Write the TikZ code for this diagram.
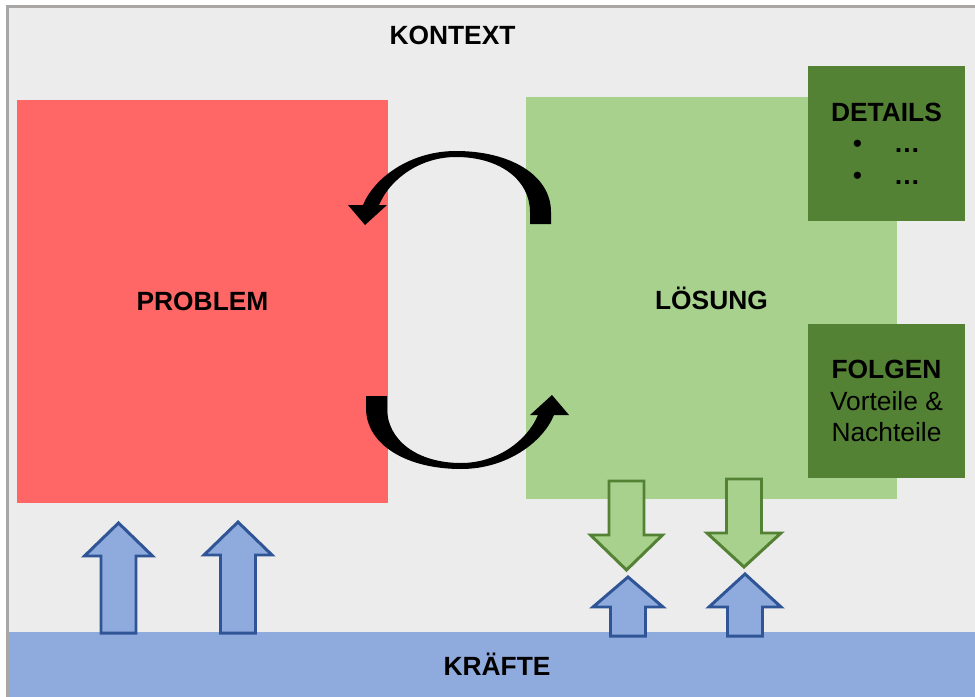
\documentclass[tikz,border=0pt]{standalone}
\usepackage{fontspec}
\setmainfont{Liberation Sans}

\definecolor{kontextgray}{HTML}{ECECEC}
\definecolor{framegray}{HTML}{A9A7A5}
\definecolor{problemred}{HTML}{FF6666}
\definecolor{loesunggreen}{HTML}{A9D18E}
\definecolor{darkgreen}{HTML}{548235}
\definecolor{forceblue}{HTML}{8FAADC}
\definecolor{forcedark}{HTML}{2F5597}

\begin{document}
\begin{tikzpicture}[
        x = 0.02cm, y = -0.02cm,
        font = \fontsize{15}{18}\selectfont,
        box/.style = {inner sep = 0pt, align = center},
        upforce/.style = {draw = forcedark, fill = forceblue, line width = 1.7pt},
        downforce/.style = {draw = darkgreen, fill = loesunggreen, line width = 1.7pt},
        swirl/.style = {fill = black}
      ]
      \useasboundingbox (0, 0) rectangle (975, 697);
      % context frame and forces band
      \fill[kontextgray] (7.5, 6.5) rectangle (975, 697);
      \draw[framegray, line width = 1.7pt] (7.5, 697) -- (7.5, 6.5) -- (975, 6.5);
      \fill[forceblue] (8.5, 632) rectangle (975, 697);
      \node[anchor = base] (kontext) at (452.5, 44.5) {\textbf{KONTEXT}};
      \node[anchor = base] (kraefte) at (497, 675) {\textbf{KRÄFTE}};
      % problem and solution
      \node[box, fill = problemred, minimum width = 7.42cm, minimum height = 8.06cm]
        (problem) at (202.5, 301.5) {\textbf{PROBLEM}};
      \node[box, fill = loesunggreen, minimum width = 7.42cm, minimum height = 8.04cm]
        (loesung) at (711.5, 298) {\textbf{LÖSUNG}};
      \node[box, fill = darkgreen, minimum width = 3.14cm, minimum height = 3.1cm]
        (details) at (886.5, 143.5)
        {\textbf{DETAILS}\\ \textbullet\hspace{18pt}\textbf{…}\\ \textbullet\hspace{18pt}\textbf{…}};
      \node[box, fill = darkgreen, minimum width = 3.14cm, minimum height = 3.08cm]
        (folgen) at (886.5, 401) {\textbf{FOLGEN}\\ Vorteile \&\\ Nachteile};
      % the cycle between problem and solution
      \coordinate (pivot) at (458.5, 310);
      \foreach \turn in {0, 180}
        \fill[swirl, rotate around = {\turn:(pivot)}]
          (551, 224) -- (551, 212) .. controls (551, 175) and (510, 151) .. (456, 151)
          .. controls (410, 151) and (374, 178) .. (363, 205) -- (348, 205) -- (365, 225)
          -- (387, 205) -- (379, 205) .. controls (390, 179) and (420, 157) .. (456, 157)
          .. controls (500, 157) and (530, 180) .. (530, 212) -- (530, 224) -- cycle;
      % forces pushing up
      \foreach \x/\t/\h/\b/\w in {118.5/523/556/633/34, 238/522/555/633/34,
                                  628/577/607/636/35, 745/574/607/636/36}
        \draw[upforce] (\x, \t) -- (\x+\w, \h) -- (\x+17.5, \h) -- (\x+17.5, \b)
          -- (\x-17.5, \b) -- (\x-17.5, \h) -- (\x-\w, \h) -- cycle;
      % consequences pushing down
      \foreach \x/\t/\h/\b/\w in {626.5/481/535/570/36, 744/479/533/567/37}
        \draw[downforce] (\x-17.5, \t) -- (\x+17.5, \t) -- (\x+17.5, \h) -- (\x+\w, \h)
          -- (\x, \b) -- (\x-\w, \h) -- (\x-17.5, \h) -- cycle;
    \end{tikzpicture}
\end{document}
